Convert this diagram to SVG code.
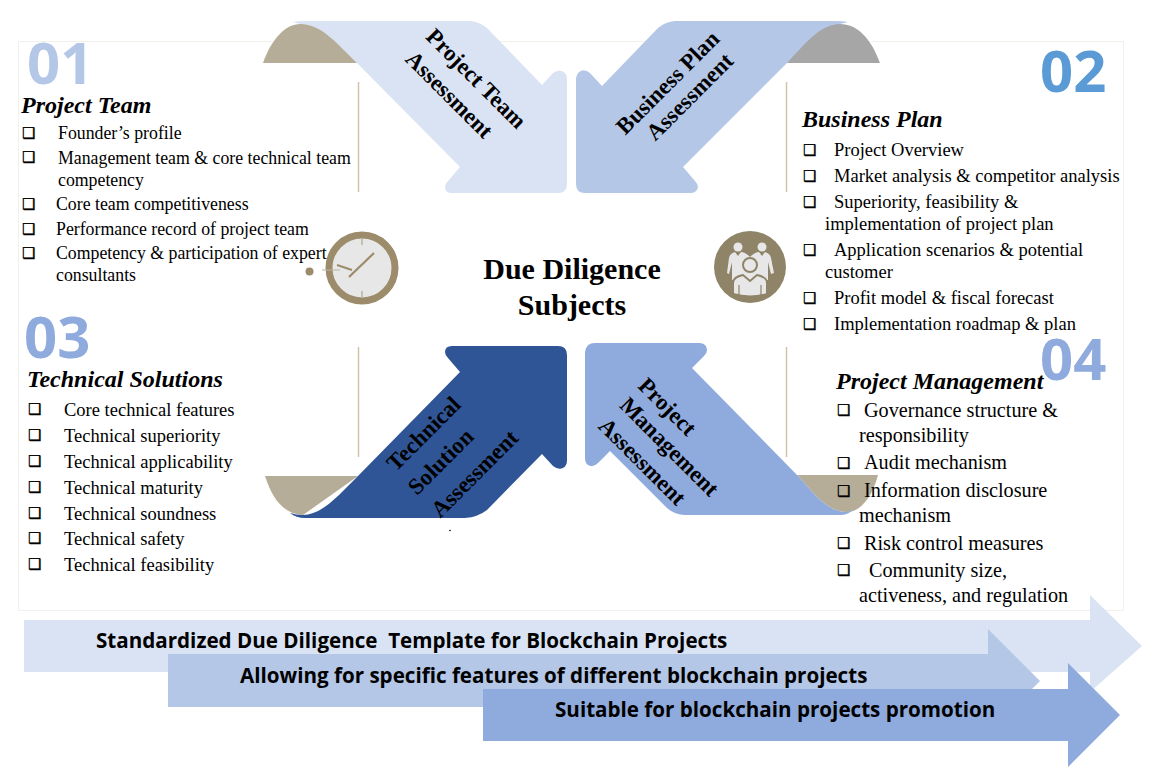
<svg xmlns="http://www.w3.org/2000/svg" width="1166" height="781" viewBox="0 0 1166 781">
<style>
text{font-family:"Liberation Serif","Times New Roman",serif;fill:#000}
.it{font-size:17.8px}
.i2{font-size:18.5px}
.i3{font-size:20.2px}
.cb{font-family:"DejaVu Sans",sans-serif;font-size:15px;font-weight:bold;stroke:#000;stroke-width:.4}
.hd{font-size:24px;font-weight:bold;font-style:italic}
.num{font-family:"Open Sans","Liberation Sans",sans-serif;font-size:58px;font-weight:bold}
.ar{font-size:23px;font-weight:bold;text-anchor:middle}
.ti{font-size:30px;font-weight:bold;text-anchor:middle}
.bn{font-family:"Open Sans","Liberation Sans",sans-serif;font-size:20.6px;font-weight:bold}
.tan{fill:#B5AD98}
.vl{stroke:#CFC4A8;stroke-width:1.5;fill:none}
</style>
<rect x="18.500" y="41.500" width="1105" height="569" fill="#fff" stroke="#F1F1EC"/>
<g id="connectors">
<line class="vl" x1="358.500" y1="82" x2="358.500" y2="192"/>
<line class="vl" x1="358.500" y1="347" x2="358.500" y2="457"/>
<line class="vl" x1="786.500" y1="82" x2="786.500" y2="192"/>
<line class="vl" x1="786.500" y1="347" x2="786.500" y2="457"/>
</g>
<g id="node-team-arrow">
<path d="M293 22Q298 21 305 21H470Q480 22 487 28L542 85L553 73Q560 68 565 73Q567 75 567 80V184Q567 193 558 193H452Q445 193 445 187Q445 184 448 181L460 167L357 63L300 24Z" fill="#DAE3F3"/>
<path class="tan" d="M263 63C272 38 286 24 300 24C322 24 337 44 357 63Z"/>
<text class="ar" transform="translate(471,84) rotate(45)">Project Team</text>
<text class="ar" transform="translate(444,100) rotate(45)">Assessment</text>
</g>
<g id="node-plan-arrow">
<path d="M848 22Q843 21 836 21H675Q665 22 658 28L602 86L590 73Q584 68 579 72Q576 75 576 80V184Q576 193 585 193H690Q697 193 698 187Q698 184 695 181L683 167L787 63L840 24Z" fill="#B4C7E7"/>
<path fill="#A6A6A6" d="M880 63C871 38 857 24 840 24C820 24 805 44 787 63Z"/>
<text class="ar" transform="translate(673,88) rotate(-45)">Business Plan</text>
<text class="ar" transform="translate(695,102) rotate(-45)">Assessment</text>
</g>
<g id="node-tech-arrow">
<path class="tan" d="M265 476H358L303 515C283 514 272 498 265 476Z"/>
<path d="M290 513Q296 518 305 518H465Q478 517 487 510L542 454L553 466Q558 470 563 468Q567 466 567 460V355Q567 346 558 346H452Q445 346 445 352Q445 355 448 358L460 372L358 476C340 494 322 515 303 515Q296 515 290 513Z" fill="#2F5597"/>
<text class="ar" transform="translate(429,439) rotate(-45)">Technical</text>
<text class="ar" transform="translate(446,467) rotate(-45)">Solution</text>
<text class="ar" transform="translate(480,479) rotate(-45)">Assessment</text>
<circle cx="450" cy="530.500" r="0.800" fill="#000"/>
</g>
<g id="node-mgmt-arrow">
<path class="tan" d="M797 475H878C872 498 860 512 847 512C825 512 812 490 797 475Z"/>
<path d="M585 352Q586 343 595 343H700Q707 344 707 350Q707 353 704 356L692 368L797 475C812 490 825 512 847 512L853 510Q848 515 840 515H685Q675 515 667 508L610 451L598 463Q593 468 588 465Q585 463 585 458Z" fill="#8FAADC"/>
<text class="ar" transform="translate(662,412) rotate(45)">Project</text>
<text class="ar" transform="translate(664,452) rotate(45)">Management</text>
<text class="ar" transform="translate(637,467) rotate(45)">Assessment</text>
</g>
<g id="node-center"><text class="ti" x="572" y="279">Due Diligence</text><text class="ti" x="572" y="315">Subjects</text></g>
<g id="node-clock">
<circle cx="362" cy="268" r="33" fill="#E7E7E7" stroke="#9C8C6B" stroke-width="7"/>
<path d="M362 238v7M362 291v7" stroke="#BDB49E" stroke-width="1.500"/>
<path d="M322 270H340" stroke="#BDB49E" stroke-width="1"/>
<path d="M349 277L374 253M337 265L352 270" stroke="#9C8C6B" stroke-width="2.200" fill="none"/>
<circle cx="309.500" cy="271.500" r="4" fill="#9C8C6B"/>
</g>
<g id="node-people">
<circle cx="750" cy="267" r="36" fill="#8F8468"/>
<g fill="#E7E7E7">
<circle cx="738" cy="247" r="4.500"/><circle cx="762" cy="247" r="4.500"/>
<path d="M727 273L729 258Q730 253 735 252L738 256L741 252Q745 252 750 257Q755 252 759 252L762 256L765 252Q770 253 771 258L774 273L771 274L768 262V280H732V262L729 274Z"/>
<circle cx="750" cy="265" r="7" stroke="#8F8468" stroke-width="2"/>
<path d="M733 294V283Q733 277 743 275L750 281L757 275Q767 277 767 283V294Q750 299 733 294Z" stroke="#8F8468" stroke-width="2"/>
<path d="M739 285V296M761 285V296" stroke="#8F8468" stroke-width="1.200"/>
</g>
</g>
<g id="node-project-team">
<text class="num" x="27" y="84" style="fill:#B4C7E7">01</text>
<text class="hd" x="21" y="113">Project Team</text>
<text class="cb" x="22" y="138">❑</text><text class="it" x="58" y="139">Founder’s profile</text>
<text class="cb" x="22" y="162">❑</text><text class="it" x="58" y="164">Management team &amp; core technical team</text>
<text class="it" x="58" y="186">competency</text>
<text class="cb" x="22" y="209">❑</text><text class="it" x="56" y="210">Core team competitiveness</text>
<text class="cb" x="22" y="234">❑</text><text class="it" x="56" y="235">Performance record of project team</text>
<text class="cb" x="22" y="258">❑</text><text class="it" x="56" y="259">Competency &amp; participation of expert</text>
<text class="it" x="56" y="281">consultants</text>
</g>
<g id="node-business-plan">
<text class="num" x="1040" y="92" style="fill:#5B9BD5">02</text>
<text class="hd" x="802" y="127">Business Plan</text>
<text class="cb" x="803" y="155">❑</text><text class="i2" x="834" y="156">Project Overview</text>
<text class="cb" x="803" y="181">❑</text><text class="i2" x="834" y="182">Market analysis &amp; competitor analysis</text>
<text class="cb" x="803" y="207">❑</text><text class="i2" x="834" y="208">Superiority, feasibility &amp;</text>
<text class="i2" x="825" y="230">implementation of project plan</text>
<text class="cb" x="803" y="255">❑</text><text class="i2" x="834" y="256">Application scenarios &amp; potential</text>
<text class="i2" x="825" y="278">customer</text>
<text class="cb" x="803" y="303">❑</text><text class="i2" x="834" y="304">Profit model &amp; fiscal forecast</text>
<text class="cb" x="803" y="329">❑</text><text class="i2" x="834" y="330">Implementation roadmap &amp; plan</text>
</g>
<g id="node-technical">
<text class="num" x="24" y="358" style="fill:#8FAADC">03</text>
<text class="hd" x="27" y="387">Technical Solutions</text>
<text class="cb" x="28" y="414">❑</text><text class="i2" x="64" y="416">Core technical features</text>
<text class="cb" x="28" y="440">❑</text><text class="i2" x="64" y="442">Technical superiority</text>
<text class="cb" x="28" y="466">❑</text><text class="i2" x="64" y="468">Technical applicability</text>
<text class="cb" x="28" y="492">❑</text><text class="i2" x="64" y="494">Technical maturity</text>
<text class="cb" x="28" y="518">❑</text><text class="i2" x="64" y="520">Technical soundness</text>
<text class="cb" x="28" y="543">❑</text><text class="i2" x="64" y="545">Technical safety</text>
<text class="cb" x="28" y="569">❑</text><text class="i2" x="64" y="571">Technical feasibility</text>
</g>
<g id="node-management">
<text class="num" x="1040" y="380" style="fill:#8FAADC">04</text>
<text class="hd" x="836" y="389">Project Management</text>
<text class="cb" x="837" y="415">❑</text><text class="i3" x="864" y="417">Governance structure &amp;</text>
<text class="i3" x="859" y="442">responsibility</text>
<text class="cb" x="837" y="468">❑</text><text class="i3" x="864" y="469">Audit mechanism</text>
<text class="cb" x="837" y="496">❑</text><text class="i3" x="864" y="497">Information disclosure</text>
<text class="i3" x="859" y="522">mechanism</text>
<text class="cb" x="837" y="548">❑</text><text class="i3" x="864" y="550">Risk control measures</text>
<text class="cb" x="837" y="575">❑</text><text class="i3" x="869" y="577">Community size,</text>
<text class="i3" x="859" y="602">activeness, and regulation</text>
</g>
<g id="node-banners">
<path d="M24 620H1090V595L1142 646L1090 692V672H24Z" fill="#DAE3F3"/>
<path d="M168 654H988V629L1040 681L988 733V707H168Z" fill="#B4C7E7"/>
<path d="M483 689H1068V663L1120 715L1068 767V741H483Z" fill="#8FAADC"/>
<text class="bn" x="96" y="648" xml:space="preserve">Standardized Due Diligence  Template for Blockchain Projects</text>
<text class="bn" x="240" y="683">Allowing for specific features of different blockchain projects</text>
<text class="bn" x="555" y="717">Suitable for blockchain projects promotion</text>
</g>
</svg>
